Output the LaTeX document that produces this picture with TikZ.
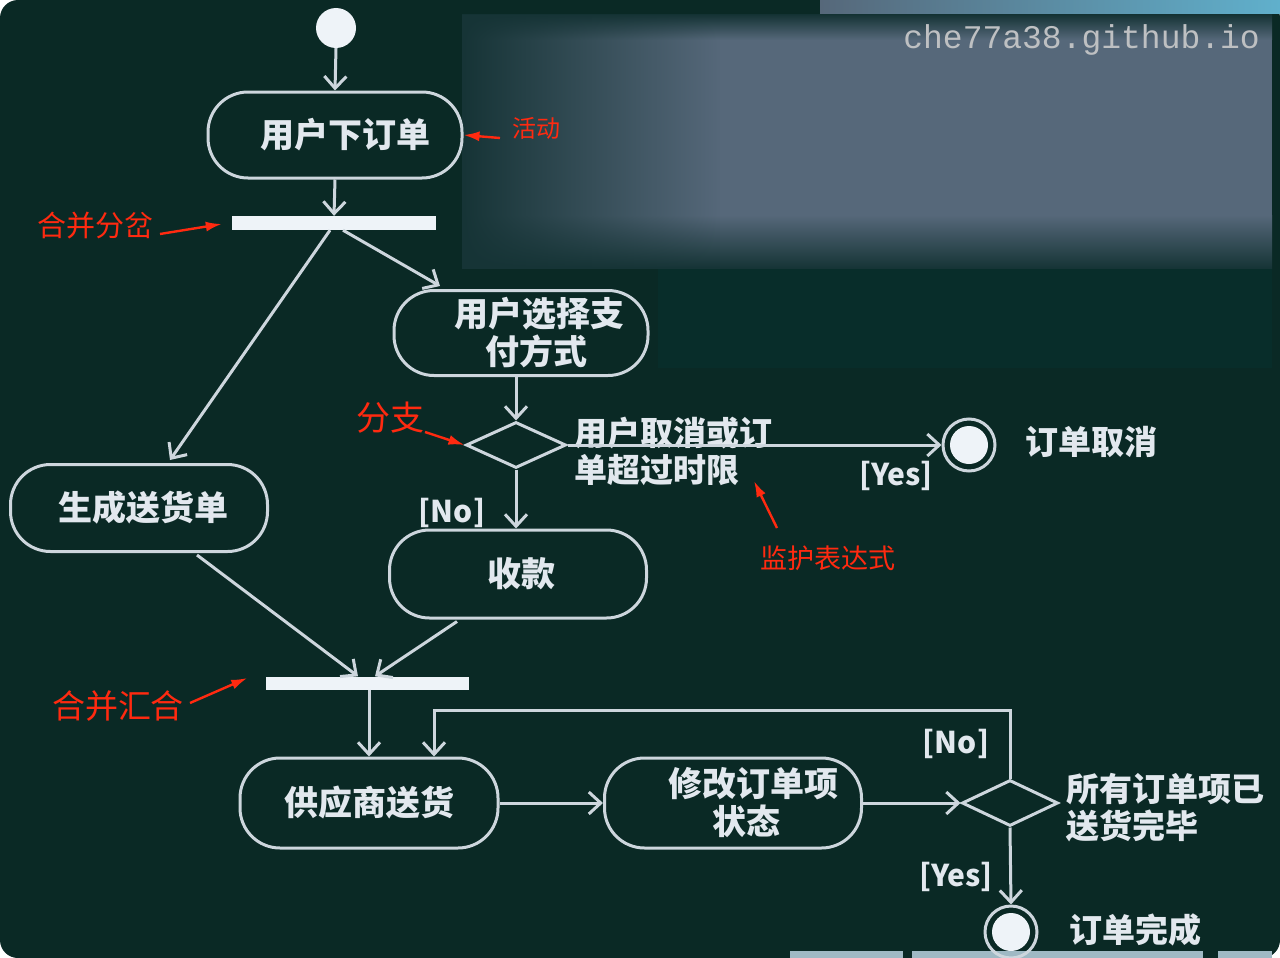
\documentclass[tikz,border=0pt]{standalone}
\usepackage{fontspec}
\newfontfamily\cjk{Noto Sans CJK SC}
\newfontfamily\wmfont{Liberation Mono}
\usetikzlibrary{arrows.meta,shapes.geometric,calc,fadings}
\definecolor{bgcol}{HTML}{0A2925}
\definecolor{lncol}{HTML}{CDD6DD}
\definecolor{txtcol}{HTML}{E2E8EE}
\definecolor{barcol}{HTML}{EEF3F8}
\definecolor{redcol}{HTML}{FF2A10}
\definecolor{blurcol}{HTML}{56687A}
\definecolor{blurdark}{HTML}{163436}
\definecolor{stripcol}{HTML}{9FB9C4}
\definecolor{lowblur}{HTML}{082D2A}
\definecolor{cyancol}{HTML}{60B0CC}
\definecolor{wmcol}{HTML}{BEC0C2}
\begin{document}
\begin{tikzpicture}[x=1pt,y=-1pt,
  ln/.style={draw=lncol,line width=3pt},
  arr/.style={ln,-{Straight Barb[length=12pt,width=22pt]}},
  act/.style={draw=lncol,line width=3pt,rounded corners=40pt,minimum width=254pt,minimum height=86pt,inner sep=0pt,align=center,text=txtcol,font=\cjk\bfseries\fontsize{34}{38}\selectfont},
  bar/.style={fill=barcol,minimum width=204pt,minimum height=14pt,inner sep=0pt},
  dec/.style={draw=lncol,line width=3pt,diamond,minimum width=100pt,minimum height=46pt,inner sep=0pt},
  endc/.style={circle,draw=lncol,line width=3pt,minimum size=52pt,inner sep=0pt},
  lbl/.style={text=txtcol,inner sep=0pt,align=left,font=\cjk\bfseries\fontsize{33}{37}\selectfont},
  tag/.style={text=txtcol,inner sep=0pt,font=\cjk\bfseries\fontsize{30}{30}\selectfont},
  note/.style={text=redcol,inner sep=0pt,font=\cjk\fontsize{#1}{#1}\selectfont},
  redarr/.style={draw=redcol,line width=2.4pt,-{Latex[length=16pt,width=10pt]}}]
% background
\fill[white] (0,0) rectangle (1280,958);
\fill[bgcol,rounded corners=18pt] (0,0) rectangle (1280,958);
\useasboundingbox (0,0) rectangle (1280,958);
% blurred region
\fill[lowblur] (658,262) rectangle (1272,368);
\fill[blurcol] (462,15) rectangle (1272,268);
\shade[top color=blurcol,bottom color=blurdark] (462,215) rectangle (1272,268);
\shade[top color=blurdark,bottom color=blurcol] (462,15) rectangle (1272,40);
\fill[blurdark,path fading=east] (462,15) rectangle (720,268);
\shade[left color=blurcol,right color=cyancol] (820,0) rectangle (1280,14);
\node[text=wmcol,font=\wmfont\fontsize{33}{33}\selectfont,inner sep=0pt,anchor=east] (wm) at (1260,40) {che77a38.github.io};
% bottom strips
\fill[stripcol] (790,951) rectangle (903,958);
\fill[stripcol] (912,951) rectangle (1203,958);
\fill[stripcol] (1218,951) rectangle (1272,958);

% nodes
\node[circle,fill=barcol,minimum size=40pt,inner sep=0pt] (start) at (336,28) {};
\node[act] (a1) at (335,135) {\hspace*{20pt}用户下订单};
\node[bar] (bar1) at (334,223) {};
\node[act,minimum width=254pt,minimum height=85pt] (pay) at (521,333) {\hspace*{36pt}用户选择支\\\hspace*{30pt}付方式};
\node[dec] (d1) at (516,445) {};
\node[endc] (cancel) at (969,445) {};
\fill[barcol] (cancel.center) circle (19pt);
\node[act,minimum width=257pt,minimum height=87pt] (ship) at (139,508) {\hspace*{8pt}生成送货单};
\node[act,minimum width=257pt,minimum height=88pt] (pay2) at (518,574) {\hspace*{6pt}收款};
\node[bar,minimum width=203pt,minimum height=13pt] (bar2) at (367,683) {};
\node[act,minimum width=258pt,minimum height=90pt] (supply) at (369,803) {供应商送货};
\node[act,minimum width=257pt,minimum height=90pt] (modify) at (733,803) {\hspace*{40pt}修改订单项\\\hspace*{26pt}状态};
\node[dec,minimum width=96pt] (d2) at (1010,803) {};
\node[endc] (done) at (1011,932) {};
\fill[barcol] (done.center) circle (19pt);

% labels
\node[lbl,anchor=west] (c1) at (574,451) {用户取消或订\\单超过时限};
\node[tag] (yes1) at (896,476) {[Yes]};
\node[tag] (no1) at (452,513) {[No]};
\node[lbl] (t1) at (1091,442) {订单取消};
\node[tag] (no2) at (956,744) {[No]};
\node[tag] (yes2) at (956,877) {[Yes]};
\node[lbl,anchor=west] (c2) at (1066,808) {所有订单项已\\送货完毕};
\node[lbl] (t2) at (1135,930) {订单完成};

% connectors
\draw[arr] (start.south) -- (a1.north);
\draw[arr] (a1.south) -- (bar1.north);
\draw[arr] ([xshift=-4pt]bar1.south) -- ([xshift=31pt,yshift=3pt]ship.north);
\draw[arr] ([xshift=9pt]bar1.south) -- ([xshift=-81pt,yshift=3pt]pay.north);
\draw[arr] (d1.north |- pay.south) -- (d1.north);
\draw[arr] (d1.east) -- (cancel.west);
\draw[arr] (d1.south) -- (d1.south |- pay2.north);
\draw[arr] ([xshift=58pt,yshift=-2pt]ship.south) -- ([xshift=-9pt]bar2.north);
\draw[arr] ([xshift=-61pt,yshift=-2pt]pay2.south) -- ([xshift=8pt]bar2.north);
\draw[arr] (bar2.south -| supply.north) -- (supply.north);
\draw[arr] (supply.east) -- (modify.west);
\draw[arr] (modify.east) -- (d2.west);
\coordinate (loop) at (434,710);
\draw[arr] (d2.north) |- (loop) -- (loop |- supply.north);
\draw[arr] (d2.south) -- (done.north);

% red annotations
\node[note=24,anchor=west] (n1) at (512,128) {活动};
\coordinate (n1a) at (500,138);
\draw[redarr] (n1a) -- (a1.east);
\node[note=29,anchor=west] (n2) at (37,226) {合并分岔};
\coordinate (n2a) at (160,234);
\draw[redarr] (n2a) -- ([xshift=-10pt,yshift=-1pt]bar1.west);
\node[note=34] (n3) at (390,418) {分支};
\coordinate (n3a) at (425,432);
\draw[redarr] (n3a) -- (d1.west);
\node[note=27] (n4) at (828,558) {监护表达式};
\coordinate (n4a) at (777,528);
\coordinate (n4b) at (754,481);
\draw[redarr] (n4a) -- (n4b);
\node[note=33] (n5) at (118,706) {合并汇合};
\coordinate (n5a) at (190,703);
\draw[redarr] (n5a) -- ([xshift=-18pt,yshift=5pt]bar2.west);
\end{tikzpicture}
\end{document}
